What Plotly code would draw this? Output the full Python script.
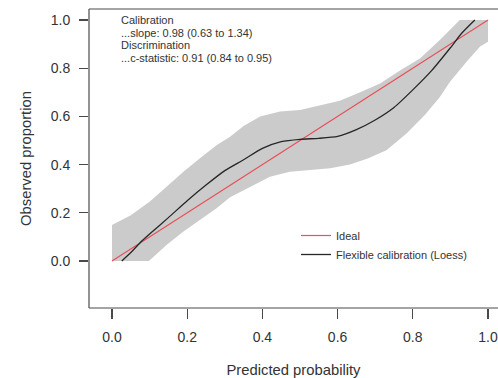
import plotly.graph_objects as go

# ---- data ----
loess_x = [0.026, 0.05, 0.074, 0.10, 0.15, 0.20, 0.25, 0.30, 0.35, 0.40, 0.45,
           0.50, 0.55, 0.60, 0.65, 0.70, 0.75, 0.80, 0.85, 0.90, 0.93, 0.965]
loess_y = [0.0, 0.035, 0.075, 0.112, 0.18, 0.25, 0.315, 0.375, 0.42, 0.467, 0.495,
           0.505, 0.509, 0.517, 0.545, 0.585, 0.637, 0.71, 0.79, 0.885, 0.945, 1.0]

band_x = [0.0, 0.05, 0.10, 0.145, 0.19, 0.234, 0.278, 0.314, 0.35, 0.394, 0.447,
          0.50, 0.553, 0.606, 0.66, 0.713, 0.766, 0.819, 0.872, 0.917, 0.925, 1.0]
band_upper = [0.149, 0.19, 0.246, 0.308, 0.37, 0.426, 0.48, 0.516, 0.56, 0.60, 0.62,
              0.627, 0.645, 0.665, 0.70, 0.737, 0.79, 0.84, 0.917, 0.99, 1.0, 1.0]
lower_x = [0.0, 0.098, 0.145, 0.19, 0.234, 0.278, 0.314, 0.367, 0.42, 0.473, 0.527,
           0.58, 0.633, 0.68, 0.73, 0.784, 0.832, 0.872, 0.899, 0.943, 0.979, 1.0]
band_lower = [0.0, 0.0, 0.066, 0.122, 0.17, 0.219, 0.265, 0.308, 0.35, 0.37, 0.378,
              0.385, 0.40, 0.425, 0.46, 0.53, 0.606, 0.68, 0.744, 0.827, 0.89, 0.91]

ideal_x = [0.0, 1.0]
ideal_y = [0.0, 1.0]

tick_vals = [0.0, 0.2, 0.4, 0.6, 0.8, 1.0]
tick_text = ["0.0", "0.2", "0.4", "0.6", "0.8", "1.0"]

stats_lines = ["Calibration",
               "...slope: 0.98 (0.63 to 1.34)",
               "Discrimination",
               "...c-statistic: 0.91 (0.84 to 0.95)"]

FONT = "Liberation Sans, Arial, Helvetica, sans-serif"
TXT = "#333333"

fig = go.Figure()

# confidence band polygon
fig.add_trace(go.Scatter(
    x=band_x + lower_x[::-1],
    y=band_upper + band_lower[::-1],
    fill="toself", fillcolor="#cbcbcb", mode="lines",
    line=dict(width=0, color="rgba(0,0,0,0)"),
    hoverinfo="skip", showlegend=False))

fig.add_trace(go.Scatter(
    x=ideal_x, y=ideal_y, mode="lines", name="Ideal",
    line=dict(color="#e8505a", width=1.2)))

fig.add_trace(go.Scatter(
    x=loess_x, y=loess_y, mode="lines", name="Flexible calibration (Loess)",
    line=dict(color="#262626", width=1.3, shape="spline", smoothing=0.6)))

# statistics text
line_px = [20, 32.5, 45, 57.5]
for t, py in zip(stats_lines, line_px):
    fig.add_annotation(
        x=(119 - 112) / 376, y=(261 - py) / 241, xref="x", yref="y",
        text=t, showarrow=False, xanchor="left", yanchor="middle",
        font=dict(family=FONT, size=11, color=TXT))

# box (left, top, bottom)
box_col = "#4a4a4a"
for (x0, y0, x1, y1) in [(0, 0, 0, 1), (0, 1, 1, 1), (0, 0, 1, 0)]:
    fig.add_shape(type="line", xref="paper", yref="paper",
                  x0=x0, y0=y0, x1=x1, y1=y1,
                  line=dict(color=box_col, width=1.2))

fig.update_layout(
    width=498, height=378,
    margin=dict(l=89, r=0, t=9, b=70, pad=0, autoexpand=False),
    paper_bgcolor="white", plot_bgcolor="white",
    font=dict(family=FONT, color=TXT),
    hovermode=False,
    legend=dict(x=(296 - 89) / 409, y=1 - (221 - 9) / 299,
                xanchor="left", yanchor="top",
                bgcolor="rgba(0,0,0,0)", borderwidth=0,
                font=dict(family=FONT, size=11, color=TXT),
                tracegroupgap=0),
    xaxis=dict(range=[-23 / 376, 386 / 376], tickvals=tick_vals, ticktext=tick_text,
               ticks="outside", ticklen=10, tickwidth=1.2, tickcolor=box_col,
               showgrid=False, zeroline=False, showline=False, automargin=False,
               tickfont=dict(family=FONT, size=14, color=TXT),
               ticklabelstandoff=6,
               title=dict(text="Predicted probability",
                          font=dict(family=FONT, size=14.8, color=TXT), standoff=22)),
    yaxis=dict(range=[-47 / 241, 252 / 241], tickvals=tick_vals, ticktext=tick_text,
               ticks="outside", ticklen=9, tickwidth=1.2, tickcolor=box_col,
               showgrid=False, zeroline=False, showline=False, automargin=False,
               tickfont=dict(family=FONT, size=14, color=TXT),
               ticklabelstandoff=6,
               title=dict(text="Observed proportion",
                          font=dict(family=FONT, size=14.8, color=TXT), standoff=15)),
)

fig.write_html("out.html",
               config={"displayModeBar": False, "staticPlot": True},
               post_script="document.body.style.margin='0';document.body.style.overflow='hidden';")
